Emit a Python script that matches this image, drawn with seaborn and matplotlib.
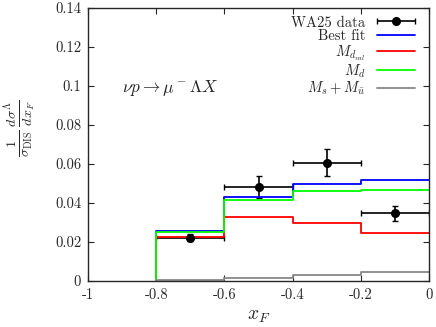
import numpy as np
import pandas as pd
import seaborn as sns
import matplotlib.pyplot as plt
from matplotlib.container import ErrorbarContainer
from matplotlib.legend_handler import HandlerErrorbar

# bin edges and model curves (step histograms)
edges = [-0.8, -0.6, -0.4, -0.2, 0.0]
best_fit = [0.0258, 0.0431, 0.0497, 0.0518]
m_dval = [0.0227, 0.0327, 0.0297, 0.0246]
m_d = [0.0250, 0.0415, 0.0463, 0.0467]
m_s_ubar = [0.0004, 0.0014, 0.0029, 0.0046]

# WA25 data points
data_x = [-0.7, -0.5, -0.3, -0.1]
data_y = [0.0220, 0.0482, 0.0607, 0.0346]
data_xerr = [0.1, 0.1, 0.1, 0.1]
data_yerr = [0.0018, 0.0056, 0.0070, 0.0040]

sns.set_style("ticks")
plt.rcParams['font.family'] = ['cmr10', 'DejaVu Serif']
plt.rcParams['mathtext.fontset'] = 'cm'
plt.rcParams['axes.unicode_minus'] = False

fig = plt.figure(figsize=(4.36, 3.27), dpi=100)
ax = fig.add_axes([0.202, 0.141, 0.782, 0.835])

ebar_kw = dict(fmt='o', color='black', markersize=5.5, capsize=2, elinewidth=1.2, capthick=1.0)
ax.errorbar(data_x, data_y, xerr=data_xerr, yerr=data_yerr, **ebar_kw)
# legend-only handle: horizontal bar with caps, like the reference key
key = ax.errorbar([np.nan], [np.nan], xerr=[0.1], label='WA25 data', **ebar_kw)

curves = [
    ("Best fit", best_fit, "#0000ff"),
    (r"$M_{d_{val}}$", m_dval, "#ff0000"),
    (r"$M_d$", m_d, "#00ff00"),
    (r"$M_s+M_{\bar u}$", m_s_ubar, "#888888"),
]
for name, vals, col in curves:
    df = pd.DataFrame({"x": [edges[0]] + edges, "y": [0.0] + vals + [vals[-1]]})
    sns.lineplot(data=df, x="x", y="y", estimator=None, sort=False, drawstyle='steps-post',
                 color=col, linewidth=1.3, label=name, ax=ax)

ax.set_xlim(-1, 0)
ax.set_ylim(0, 0.14)
xt = [-1, -0.8, -0.6, -0.4, -0.2, 0]
yt = [0, 0.02, 0.04, 0.06, 0.08, 0.1, 0.12, 0.14]
ax.set_xticks(xt)
ax.set_xticklabels(["-1", "-0.8", "-0.6", "-0.4", "-0.2", "0"])
ax.set_yticks(yt)
ax.set_yticklabels(["0", "0.02", "0.04", "0.06", "0.08", "0.1", "0.12", "0.14"])
ax.tick_params(direction='in', top=True, right=True, length=4, width=0.8, labelsize=10.5, pad=5)
for s in ax.spines.values():
    s.set_linewidth(1.0)

ax.set_xlabel(r"$x_F$", fontsize=14)
ax.set_ylabel(r"$\frac{1}{\sigma_{\rm DIS}}\,\frac{d\sigma^\Lambda}{dx_F}$", fontsize=14.5)
ax.yaxis.set_label_coords(-0.145, 0.56)
ax.text(-0.9, 0.099, r"$\nu p \to \mu^- \Lambda X$", fontsize=12.5, va='center')

h, l = ax.get_legend_handles_labels()
order = [l.index(n) for n in ["WA25 data", "Best fit", r"$M_{d_{val}}$", r"$M_d$", r"$M_s+M_{\bar u}$"]]
ax.legend([h[i] for i in order], [l[i] for i in order], loc='upper right', frameon=False,
          bbox_to_anchor=(0.982, 1.0),
          markerfirst=False, fontsize=10.5, handlelength=2.6, labelspacing=0.0,
          borderaxespad=0.15, handletextpad=0.8,
          handler_map={ErrorbarContainer: HandlerErrorbar(xerr_size=1.3)})

fig.savefig("out.png", dpi=100)
